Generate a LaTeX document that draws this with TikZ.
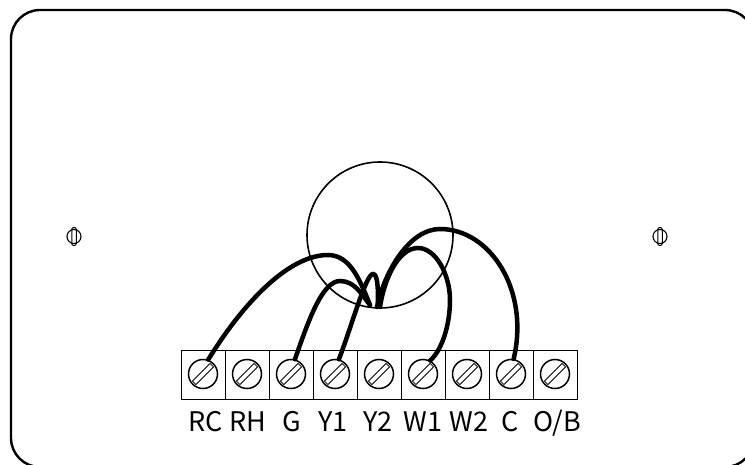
\documentclass[tikz,border=0pt]{standalone}
\usepackage{fontspec}
\setmainfont{Noto Sans CJK JP}
\tikzset{
  wire/.style={line width=4.5pt,line cap=round,black},
  cell/.style={draw=black,line width=1.3pt,minimum width=44pt,minimum height=49pt,inner sep=0pt,anchor=north west},
  head/.style={draw=black,line width=1.5pt,circle,minimum size=29pt,inner sep=0pt},
  slot/.style={draw=black,line width=.8pt,rectangle,minimum width=25pt,minimum height=5pt,inner sep=0pt,rotate=45},
  termlabel/.style={font=\fontsize{27}{27}\selectfont,text=black,inner sep=0pt,anchor=base},
  mount/.style={draw=black,line width=1.1pt,circle,minimum size=14pt,inner sep=0pt},
  mountslot/.style={draw=black,line width=1pt,rectangle,rounded corners=2pt,minimum width=4.5pt,minimum height=18pt,inner sep=0pt},
}
\begin{document}
\begin{tikzpicture}[x=1pt,y=-1pt]
\useasboundingbox (0,0) rectangle (745,465);
\clip (0,0) rectangle (745,465);
\draw[line width=2.4pt,rounded corners=29pt] (11,467) -- (11,10) -- (754,10) -- (754,467) -- cycle;
\node[draw=black,line width=1.6pt,circle,minimum size=146pt,inner sep=0pt] (bigc) at (380,235) {};
\foreach \i/\x/\t/\lx in {0/181/RC/205.5,1/225/RH/248,2/269/G/292,3/313/Y1/333,4/357/Y2/378,5/401/W1/423,6/445/W2/469,7/489/C/510}{
  \node[cell] (c\i) at (\x,350) {};
  \node[head] (h\i) at (\x+22,374) {};
  \node[slot] (s\i) at (\x+22,374) {};
  \node[termlabel] (t\i) at (\lx,431) {\t};
}
\node[cell] (c8) at (533,350) {};
\node[head] (h8) at (555,374) {};
\node[slot] (s8) at (555,374) {};
\node[termlabel] (t8) at (557,431) {O/B};
\foreach \s/\x in {sl/74,sr/660}{
  \node[mount] (\s) at (\x,236.5) {};
  \node[mountslot] (\s s) at (\x,236.5) {};
}
\coordinate (hub1) at (370,305);
\coordinate (hub2) at (378,305);
\coordinate (hub3) at (380,307);
\coordinate (hub4) at (377,307);
\draw[wire] (h0.70) .. controls (245,300) and (290,255) .. (328,255) .. controls (350,255) and (360,280) .. (hub1);
\draw[wire] (h2.75) .. controls (308,322) and (322,281) .. (340,281) .. controls (355,281) and (362,295) .. (hub1);
\draw[wire] (h3.75) .. controls (352,325) and (366,274) .. (373,274) .. controls (378,274) and (378,290) .. (hub2);
\draw[wire] (h5.62) .. controls (442,350) and (450,325) .. (450,300) .. controls (450,275) and (436,248) .. (418,248) .. controls (398,248) and (384,280) .. (hub3);
\draw[wire] (h7.80) .. controls (530,290) and (490,229) .. (440,229) .. controls (410,229) and (385,270) .. (hub4);
\end{tikzpicture}
\end{document}
